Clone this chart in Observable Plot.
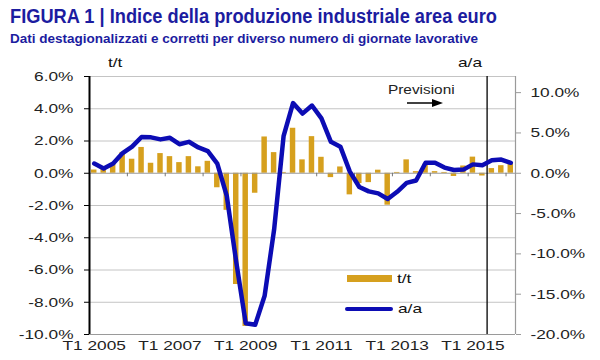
<!DOCTYPE html>
<html><head><meta charset="utf-8">
<script src="https://cdn.jsdelivr.net/npm/d3@7"></script>
<script src="https://cdn.jsdelivr.net/npm/@observablehq/plot@0.6"></script>
<style>
body{margin:0;background:#fff;font-family:"Liberation Sans",Arial,sans-serif;}
#wrap{position:relative;width:600px;height:360px;overflow:hidden;background:#fff}
#head{position:relative;height:50px}
.ov{position:absolute;white-space:nowrap;transform-origin:0 50%;line-height:1;}
#title{left:10px;top:7px;font-size:19.5px;font-weight:bold;color:#1c1ca0;}
#subtitle{left:10px;top:33px;font-size:12px;font-weight:bold;color:#1c1ca0;}
.lab{font-size:13.5px;color:#111;transform:scaleX(1.28);}
#prev{font-size:12px;color:#222;transform:scaleX(1.28);}
</style></head>
<body>
<div id="wrap">
  <div id="head">
    <div class="ov" id="title">FIGURA 1 | Indice della produzione industriale area euro</div>
    <div class="ov" id="subtitle">Dati destagionalizzati e corretti per diverso numero di giornate lavorative</div>
  </div>
  <div id="chart"></div>
  <div class="ov lab" style="left:108px;top:56px">t/t</div>
  <div class="ov lab" style="left:458px;top:56px">a/a</div>
  <div class="ov" id="prev" style="left:388px;top:84px">Previsioni</div>
  <svg class="ov" style="left:405px;top:97px" width="40" height="12"><line x1="2" y1="6" x2="28" y2="6" stroke="#000" stroke-width="1.5"/><polygon points="27,2 38,6 27,10" fill="#000"/></svg>
  <div class="ov" style="left:347px;top:275px;width:45px;height:7px;background:#d6a01e"></div>
  <div class="ov lab" style="left:397px;top:272px">t/t</div>
  <div class="ov" style="left:345px;top:307px;width:48px;height:3.5px;border-radius:2px;background:#0c0cb4"></div>
  <div class="ov lab" style="left:398px;top:302px">a/a</div>
</div>
<script>
const quarters = [
  "T1 2005","T2 2005","T3 2005","T4 2005",
  "T1 2006","T2 2006","T3 2006","T4 2006",
  "T1 2007","T2 2007","T3 2007","T4 2007",
  "T1 2008","T2 2008","T3 2008","T4 2008",
  "T1 2009","T2 2009","T3 2009","T4 2009",
  "T1 2010","T2 2010","T3 2010","T4 2010",
  "T1 2011","T2 2011","T3 2011","T4 2011",
  "T1 2012","T2 2012","T3 2012","T4 2012",
  "T1 2013","T2 2013","T3 2013","T4 2013",
  "T1 2014","T2 2014","T3 2014","T4 2014",
  "T1 2015","T2 2015","T3 2015","T4 2015",
  "T1 2016"
];
// t/t (quarter on quarter, %), left axis
const tt = [
  0.2, 0.35, 0.6, 1.28,
  0.87, 1.6, 0.62, 1.22,
  1.03, 0.66, 1.03, 0.4,
  0.74, -0.9, -2.3, -6.9,
  -9.5, -1.24, 2.25, 1.28,
  0.05, 2.79, 0.83, 2.27,
  0.99, -0.27, 0.39, -1.34,
  -0.64, -0.58, 0.19, -1.98,
  0.05, 0.83, 0.1, 0.56,
  0.1, 0.05, -0.2, 0.45,
  1.0, -0.17, 0.29, 0.47,
  0.6
];
// a/a (year on year, %), right axis
const aa = [
  1.2, 0.6, 1.2, 2.5,
  3.3, 4.5, 4.45, 4.2,
  4.4, 3.6, 3.9, 3.2,
  2.75, 1.2, -2.8, -11.0,
  -18.6, -18.8, -15.2, -7.0,
  4.6, 8.7, 7.4, 8.4,
  6.8, 3.9, 3.3, 0.2,
  -1.7, -2.25, -2.5, -3.2,
  -2.3, -1.2, -0.9, 1.3,
  1.3, 0.7, 0.4, 0.45,
  1.1, 1.0, 1.6, 1.7,
  1.3
];
const xTickLabels = ["T1 2005","T1 2007","T1 2009","T1 2011","T1 2013","T1 2015"];
const leftTicks = [-10, -8, -6, -4, -2, 0, 2, 4, 6];
const rightTicks = [-20, -15, -10, -5, 0, 5, 10];
const forecastStart = "T3 2015";

const GOLD = "#d6a01e", BLUE = "#0c0cb4";
const bars = quarters.map((q, i) => ({i, q, v: tt[i]}));
const yoy = quarters.map((q, i) => ({i, q, v: aa[i]}));
const yearTicks = quarters.map((q, i) => q.startsWith("T1") ? i : null).filter(d => d !== null && d > 0);
const labelPos = xTickLabels.map(l => quarters.indexOf(l) + 0.5);
const forecastIdx = quarters.indexOf(forecastStart);
const ratio = 2; // right axis = 2 x left axis

const chart = Plot.plot({
  width: 600, height: 310,
  marginTop: 26, marginBottom: 26, marginLeft: 89, marginRight: 85,
  x: {type: "linear", domain: [0, quarters.length], label: null},
  y: {domain: [-10, 6], label: null},
  style: {fontFamily: "Liberation Sans, Arial, sans-serif", fontSize: "13.5px", color: "#222", background: "white", overflow: "visible"},
  marks: [
    Plot.gridY(leftTicks.filter(d => d !== 0 && d !== -10), {stroke: "#c4c4c4", strokeOpacity: 1}),
    Plot.ruleY([-10], {stroke: "#9a9a9a", strokeWidth: 1.2}),
    Plot.rectY(bars, {x1: "i", x2: d => d.i + 1, y1: 0, y2: "v", fill: GOLD, insetLeft: 2, insetRight: 2}),
    Plot.ruleY([0], {stroke: "#9a9a9a", strokeWidth: 1.2}),
    Plot.ruleX(yearTicks, {x: d => d, y1: 0, y2: -0.22, stroke: "#777"}),
    Plot.ruleX([forecastIdx], {stroke: "#000", strokeWidth: 1.3}),
    Plot.line(yoy, {x: d => d.i + 0.5, y: d => d.v / ratio, stroke: BLUE, strokeWidth: 4.5, strokeLinejoin: "round", strokeLinecap: "round"}),
    Plot.ruleX([0], {stroke: "#000", strokeWidth: 2}),
    Plot.ruleX([quarters.length], {stroke: "#9a9a9a", strokeWidth: 1.2}),
    Plot.axisY({ticks: leftTicks, tickFormat: d => d.toFixed(1) + "%", tickSize: 5, tickPadding: 11, stroke: "#000", fill: "#222", label: null}),
    Plot.axisY({anchor: "right", ticks: rightTicks.map(d => d / ratio), tickFormat: d => (d * ratio).toFixed(1) + "%", tickSize: 5, tickPadding: 10, stroke: "#9a9a9a", fill: "#222", label: null}),
    Plot.axisX({ticks: labelPos, tickFormat: d => quarters[Math.round(d - 0.5)], tickSize: 0, tickPadding: 6, fill: "#222", label: null})
  ]
});
document.getElementById("chart").appendChild(chart);
// horizontally stretched lettering as in the reference
chart.querySelectorAll('g[aria-label$="tick label"] text').forEach(t => {
  const tr = t.getAttribute("transform");
  if (tr) t.setAttribute("transform", tr + " scale(1.28,1)");
});
function fit(id, w) {
  const el = document.getElementById(id);
  const cw = el.getBoundingClientRect().width;
  el.style.transform = `scaleX(${w / cw})`;
}
fit("title", 487);
fit("subtitle", 468);
</script>
</body></html>
